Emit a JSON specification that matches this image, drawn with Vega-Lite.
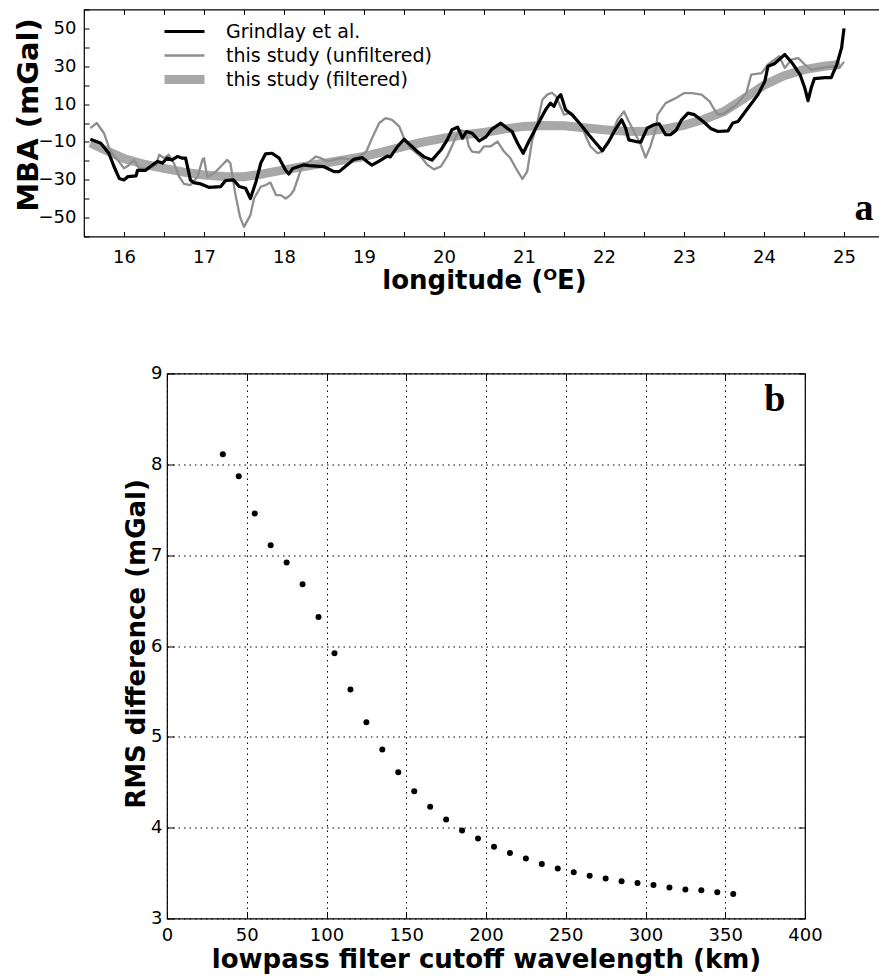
{
  "$schema": "https://vega.github.io/schema/vega-lite/v6.json",
  "background": "white",
  "padding": {"left": 13, "top": 7.5, "right": 0, "bottom": 0},
  "spacing": 69,
  "config": {
    "font": "DejaVu Sans",
    "view": {"stroke": null},
    "axis": {"labelFont": "DejaVu Sans", "labelFontSize": 18, "labelColor": "black", "tickColor": "black", "titleColor": "black", "titleFont": "DejaVu Sans", "titleFontWeight": "bold", "domain": false, "labelOverlap": false, "labelFlush": false, "grid": false}
  },
  "datasets": {
    "profile": [
      {"lon": 15.58, "mba": -10.5, "series": "this study (filtered)"},
      {"lon": 15.75, "mba": -14, "series": "this study (filtered)"},
      {"lon": 16.0, "mba": -18.8, "series": "this study (filtered)"},
      {"lon": 16.25, "mba": -21.8, "series": "this study (filtered)"},
      {"lon": 16.5, "mba": -24, "series": "this study (filtered)"},
      {"lon": 16.75, "mba": -26, "series": "this study (filtered)"},
      {"lon": 17.0, "mba": -27.5, "series": "this study (filtered)"},
      {"lon": 17.25, "mba": -28.3, "series": "this study (filtered)"},
      {"lon": 17.5, "mba": -28.4, "series": "this study (filtered)"},
      {"lon": 17.75, "mba": -26.8, "series": "this study (filtered)"},
      {"lon": 18.0, "mba": -24.8, "series": "this study (filtered)"},
      {"lon": 18.25, "mba": -23, "series": "this study (filtered)"},
      {"lon": 18.5, "mba": -21.3, "series": "this study (filtered)"},
      {"lon": 18.75, "mba": -19.5, "series": "this study (filtered)"},
      {"lon": 19.0, "mba": -17.7, "series": "this study (filtered)"},
      {"lon": 19.25, "mba": -15.1, "series": "this study (filtered)"},
      {"lon": 19.5, "mba": -12.4, "series": "this study (filtered)"},
      {"lon": 19.75, "mba": -10, "series": "this study (filtered)"},
      {"lon": 20.0, "mba": -8, "series": "this study (filtered)"},
      {"lon": 20.25, "mba": -6.2, "series": "this study (filtered)"},
      {"lon": 20.5, "mba": -5, "series": "this study (filtered)"},
      {"lon": 20.75, "mba": -3.2, "series": "this study (filtered)"},
      {"lon": 21.0, "mba": -1.8, "series": "this study (filtered)"},
      {"lon": 21.25, "mba": -1.3, "series": "this study (filtered)"},
      {"lon": 21.5, "mba": -1.5, "series": "this study (filtered)"},
      {"lon": 21.75, "mba": -2.5, "series": "this study (filtered)"},
      {"lon": 22.0, "mba": -3.6, "series": "this study (filtered)"},
      {"lon": 22.25, "mba": -4.3, "series": "this study (filtered)"},
      {"lon": 22.5, "mba": -4.5, "series": "this study (filtered)"},
      {"lon": 22.75, "mba": -3.2, "series": "this study (filtered)"},
      {"lon": 23.0, "mba": -1.2, "series": "this study (filtered)"},
      {"lon": 23.25, "mba": 2, "series": "this study (filtered)"},
      {"lon": 23.5, "mba": 6.1, "series": "this study (filtered)"},
      {"lon": 23.75, "mba": 13, "series": "this study (filtered)"},
      {"lon": 24.0, "mba": 20, "series": "this study (filtered)"},
      {"lon": 24.25, "mba": 25, "series": "this study (filtered)"},
      {"lon": 24.5, "mba": 28.2, "series": "this study (filtered)"},
      {"lon": 24.75, "mba": 30, "series": "this study (filtered)"},
      {"lon": 24.95, "mba": 30.9, "series": "this study (filtered)"},

      {"lon": 15.58, "mba": -2.7, "series": "this study (unfiltered)"},
      {"lon": 15.66, "mba": 0, "series": "this study (unfiltered)"},
      {"lon": 15.75, "mba": -5.4, "series": "this study (unfiltered)"},
      {"lon": 15.83, "mba": -15.1, "series": "this study (unfiltered)"},
      {"lon": 15.92, "mba": -19.5, "series": "this study (unfiltered)"},
      {"lon": 16.0, "mba": -24, "series": "this study (unfiltered)"},
      {"lon": 16.06, "mba": -22.3, "series": "this study (unfiltered)"},
      {"lon": 16.125, "mba": -19.5, "series": "this study (unfiltered)"},
      {"lon": 16.19, "mba": -24, "series": "this study (unfiltered)"},
      {"lon": 16.31, "mba": -24, "series": "this study (unfiltered)"},
      {"lon": 16.4, "mba": -22.3, "series": "this study (unfiltered)"},
      {"lon": 16.44, "mba": -16.8, "series": "this study (unfiltered)"},
      {"lon": 16.5, "mba": -18.6, "series": "this study (unfiltered)"},
      {"lon": 16.56, "mba": -16.8, "series": "this study (unfiltered)"},
      {"lon": 16.625, "mba": -21.3, "series": "this study (unfiltered)"},
      {"lon": 16.69, "mba": -28.4, "series": "this study (unfiltered)"},
      {"lon": 16.75, "mba": -32.2, "series": "this study (unfiltered)"},
      {"lon": 16.83, "mba": -32.8, "series": "this study (unfiltered)"},
      {"lon": 16.92, "mba": -28.4, "series": "this study (unfiltered)"},
      {"lon": 16.98, "mba": -19.5, "series": "this study (unfiltered)"},
      {"lon": 17.0, "mba": -18.6, "series": "this study (unfiltered)"},
      {"lon": 17.04, "mba": -28.4, "series": "this study (unfiltered)"},
      {"lon": 17.125, "mba": -26.6, "series": "this study (unfiltered)"},
      {"lon": 17.21, "mba": -23, "series": "this study (unfiltered)"},
      {"lon": 17.29, "mba": -19.5, "series": "this study (unfiltered)"},
      {"lon": 17.33, "mba": -21.3, "series": "this study (unfiltered)"},
      {"lon": 17.39, "mba": -37.2, "series": "this study (unfiltered)"},
      {"lon": 17.45, "mba": -49.6, "series": "this study (unfiltered)"},
      {"lon": 17.5, "mba": -54.9, "series": "this study (unfiltered)"},
      {"lon": 17.58, "mba": -48.7, "series": "this study (unfiltered)"},
      {"lon": 17.625, "mba": -39.9, "series": "this study (unfiltered)"},
      {"lon": 17.71, "mba": -33.7, "series": "this study (unfiltered)"},
      {"lon": 17.77, "mba": -32.8, "series": "this study (unfiltered)"},
      {"lon": 17.83, "mba": -31.5, "series": "this study (unfiltered)"},
      {"lon": 17.9, "mba": -38.1, "series": "this study (unfiltered)"},
      {"lon": 17.96, "mba": -38.1, "series": "this study (unfiltered)"},
      {"lon": 18.02, "mba": -39.9, "series": "this study (unfiltered)"},
      {"lon": 18.08, "mba": -38.1, "series": "this study (unfiltered)"},
      {"lon": 18.125, "mba": -35.4, "series": "this study (unfiltered)"},
      {"lon": 18.21, "mba": -24.8, "series": "this study (unfiltered)"},
      {"lon": 18.29, "mba": -21.3, "series": "this study (unfiltered)"},
      {"lon": 18.4, "mba": -17.7, "series": "this study (unfiltered)"},
      {"lon": 18.46, "mba": -18.6, "series": "this study (unfiltered)"},
      {"lon": 18.54, "mba": -20.3, "series": "this study (unfiltered)"},
      {"lon": 18.625, "mba": -19.5, "series": "this study (unfiltered)"},
      {"lon": 18.71, "mba": -18.6, "series": "this study (unfiltered)"},
      {"lon": 18.83, "mba": -19.2, "series": "this study (unfiltered)"},
      {"lon": 18.94, "mba": -17.7, "series": "this study (unfiltered)"},
      {"lon": 19.03, "mba": -15.1, "series": "this study (unfiltered)"},
      {"lon": 19.1, "mba": -8, "series": "this study (unfiltered)"},
      {"lon": 19.19, "mba": 0, "series": "this study (unfiltered)"},
      {"lon": 19.27, "mba": 2.6, "series": "this study (unfiltered)"},
      {"lon": 19.35, "mba": 1.7, "series": "this study (unfiltered)"},
      {"lon": 19.44, "mba": -1.8, "series": "this study (unfiltered)"},
      {"lon": 19.5, "mba": -8, "series": "this study (unfiltered)"},
      {"lon": 19.58, "mba": -13.3, "series": "this study (unfiltered)"},
      {"lon": 19.71, "mba": -17.7, "series": "this study (unfiltered)"},
      {"lon": 19.79, "mba": -22.1, "series": "this study (unfiltered)"},
      {"lon": 19.875, "mba": -24.5, "series": "this study (unfiltered)"},
      {"lon": 19.96, "mba": -23, "series": "this study (unfiltered)"},
      {"lon": 20.04, "mba": -17.7, "series": "this study (unfiltered)"},
      {"lon": 20.125, "mba": -9.8, "series": "this study (unfiltered)"},
      {"lon": 20.19, "mba": -3.6, "series": "this study (unfiltered)"},
      {"lon": 20.27, "mba": -4.5, "series": "this study (unfiltered)"},
      {"lon": 20.31, "mba": -12.4, "series": "this study (unfiltered)"},
      {"lon": 20.35, "mba": -15.1, "series": "this study (unfiltered)"},
      {"lon": 20.44, "mba": -15.6, "series": "this study (unfiltered)"},
      {"lon": 20.5, "mba": -12.4, "series": "this study (unfiltered)"},
      {"lon": 20.58, "mba": -12.4, "series": "this study (unfiltered)"},
      {"lon": 20.67, "mba": -9.8, "series": "this study (unfiltered)"},
      {"lon": 20.75, "mba": -15.1, "series": "this study (unfiltered)"},
      {"lon": 20.83, "mba": -18.6, "series": "this study (unfiltered)"},
      {"lon": 20.9, "mba": -24, "series": "this study (unfiltered)"},
      {"lon": 20.98, "mba": -29.6, "series": "this study (unfiltered)"},
      {"lon": 21.04, "mba": -25.7, "series": "this study (unfiltered)"},
      {"lon": 21.1, "mba": -9.8, "series": "this study (unfiltered)"},
      {"lon": 21.17, "mba": 0.8, "series": "this study (unfiltered)"},
      {"lon": 21.23, "mba": 12.3, "series": "this study (unfiltered)"},
      {"lon": 21.29, "mba": 15, "series": "this study (unfiltered)"},
      {"lon": 21.35, "mba": 16, "series": "this study (unfiltered)"},
      {"lon": 21.4, "mba": 14.1, "series": "this study (unfiltered)"},
      {"lon": 21.5, "mba": 4.4, "series": "this study (unfiltered)"},
      {"lon": 21.59, "mba": 5.3, "series": "this study (unfiltered)"},
      {"lon": 21.71, "mba": -0.9, "series": "this study (unfiltered)"},
      {"lon": 21.83, "mba": -12.4, "series": "this study (unfiltered)"},
      {"lon": 21.92, "mba": -16, "series": "this study (unfiltered)"},
      {"lon": 21.98, "mba": -15.1, "series": "this study (unfiltered)"},
      {"lon": 22.08, "mba": -8, "series": "this study (unfiltered)"},
      {"lon": 22.17, "mba": 1.7, "series": "this study (unfiltered)"},
      {"lon": 22.25, "mba": 6.1, "series": "this study (unfiltered)"},
      {"lon": 22.31, "mba": 0.8, "series": "this study (unfiltered)"},
      {"lon": 22.375, "mba": -4.5, "series": "this study (unfiltered)"},
      {"lon": 22.46, "mba": -11.5, "series": "this study (unfiltered)"},
      {"lon": 22.52, "mba": -18.3, "series": "this study (unfiltered)"},
      {"lon": 22.58, "mba": -12.4, "series": "this study (unfiltered)"},
      {"lon": 22.65, "mba": -2.7, "series": "this study (unfiltered)"},
      {"lon": 22.67, "mba": 4.4, "series": "this study (unfiltered)"},
      {"lon": 22.77, "mba": 10.5, "series": "this study (unfiltered)"},
      {"lon": 22.9, "mba": 13.2, "series": "this study (unfiltered)"},
      {"lon": 23.0, "mba": 15.8, "series": "this study (unfiltered)"},
      {"lon": 23.1, "mba": 15.8, "series": "this study (unfiltered)"},
      {"lon": 23.22, "mba": 15, "series": "this study (unfiltered)"},
      {"lon": 23.32, "mba": 11.4, "series": "this study (unfiltered)"},
      {"lon": 23.38, "mba": 7, "series": "this study (unfiltered)"},
      {"lon": 23.425, "mba": 4.4, "series": "this study (unfiltered)"},
      {"lon": 23.5, "mba": 5, "series": "this study (unfiltered)"},
      {"lon": 23.65, "mba": 9.5, "series": "this study (unfiltered)"},
      {"lon": 23.78, "mba": 15.8, "series": "this study (unfiltered)"},
      {"lon": 23.84, "mba": 25.6, "series": "this study (unfiltered)"},
      {"lon": 23.97, "mba": 26.4, "series": "this study (unfiltered)"},
      {"lon": 24.05, "mba": 30.9, "series": "this study (unfiltered)"},
      {"lon": 24.19, "mba": 35.3, "series": "this study (unfiltered)"},
      {"lon": 24.26, "mba": 29.1, "series": "this study (unfiltered)"},
      {"lon": 24.34, "mba": 33.5, "series": "this study (unfiltered)"},
      {"lon": 24.43, "mba": 34.3, "series": "this study (unfiltered)"},
      {"lon": 24.51, "mba": 30.9, "series": "this study (unfiltered)"},
      {"lon": 24.59, "mba": 28.2, "series": "this study (unfiltered)"},
      {"lon": 24.72, "mba": 29.1, "series": "this study (unfiltered)"},
      {"lon": 24.88, "mba": 30, "series": "this study (unfiltered)"},
      {"lon": 24.94, "mba": 29.1, "series": "this study (unfiltered)"},
      {"lon": 25.0, "mba": 32.3, "series": "this study (unfiltered)"},

      {"lon": 15.58, "mba": -8.6, "series": "Grindlay et al."},
      {"lon": 15.71, "mba": -10.7, "series": "Grindlay et al."},
      {"lon": 15.81, "mba": -16, "series": "Grindlay et al."},
      {"lon": 15.875, "mba": -23, "series": "Grindlay et al."},
      {"lon": 15.94, "mba": -29.3, "series": "Grindlay et al."},
      {"lon": 16.0, "mba": -30.1, "series": "Grindlay et al."},
      {"lon": 16.05, "mba": -28.3, "series": "Grindlay et al."},
      {"lon": 16.15, "mba": -28, "series": "Grindlay et al."},
      {"lon": 16.17, "mba": -25, "series": "Grindlay et al."},
      {"lon": 16.27, "mba": -25, "series": "Grindlay et al."},
      {"lon": 16.33, "mba": -23, "series": "Grindlay et al."},
      {"lon": 16.42, "mba": -20.3, "series": "Grindlay et al."},
      {"lon": 16.48, "mba": -21.2, "series": "Grindlay et al."},
      {"lon": 16.54, "mba": -18.6, "series": "Grindlay et al."},
      {"lon": 16.6, "mba": -19.5, "series": "Grindlay et al."},
      {"lon": 16.67, "mba": -17.7, "series": "Grindlay et al."},
      {"lon": 16.73, "mba": -18.6, "series": "Grindlay et al."},
      {"lon": 16.77, "mba": -18.6, "series": "Grindlay et al."},
      {"lon": 16.83, "mba": -30.1, "series": "Grindlay et al."},
      {"lon": 16.87, "mba": -31.5, "series": "Grindlay et al."},
      {"lon": 16.96, "mba": -32.2, "series": "Grindlay et al."},
      {"lon": 17.06, "mba": -34, "series": "Grindlay et al."},
      {"lon": 17.21, "mba": -33.6, "series": "Grindlay et al."},
      {"lon": 17.27, "mba": -30.4, "series": "Grindlay et al."},
      {"lon": 17.37, "mba": -30.1, "series": "Grindlay et al."},
      {"lon": 17.44, "mba": -33.6, "series": "Grindlay et al."},
      {"lon": 17.52, "mba": -34.5, "series": "Grindlay et al."},
      {"lon": 17.58, "mba": -39.9, "series": "Grindlay et al."},
      {"lon": 17.65, "mba": -31, "series": "Grindlay et al."},
      {"lon": 17.71, "mba": -21.2, "series": "Grindlay et al."},
      {"lon": 17.77, "mba": -16.3, "series": "Grindlay et al."},
      {"lon": 17.85, "mba": -16, "series": "Grindlay et al."},
      {"lon": 17.94, "mba": -18.6, "series": "Grindlay et al."},
      {"lon": 18.02, "mba": -25, "series": "Grindlay et al."},
      {"lon": 18.06, "mba": -27, "series": "Grindlay et al."},
      {"lon": 18.11, "mba": -24, "series": "Grindlay et al."},
      {"lon": 18.25, "mba": -22.1, "series": "Grindlay et al."},
      {"lon": 18.31, "mba": -22.5, "series": "Grindlay et al."},
      {"lon": 18.5, "mba": -23.1, "series": "Grindlay et al."},
      {"lon": 18.625, "mba": -25.7, "series": "Grindlay et al."},
      {"lon": 18.69, "mba": -25.7, "series": "Grindlay et al."},
      {"lon": 18.77, "mba": -22.9, "series": "Grindlay et al."},
      {"lon": 18.875, "mba": -19.2, "series": "Grindlay et al."},
      {"lon": 18.98, "mba": -18.3, "series": "Grindlay et al."},
      {"lon": 19.04, "mba": -20.5, "series": "Grindlay et al."},
      {"lon": 19.1, "mba": -22.3, "series": "Grindlay et al."},
      {"lon": 19.21, "mba": -19.6, "series": "Grindlay et al."},
      {"lon": 19.29, "mba": -17.5, "series": "Grindlay et al."},
      {"lon": 19.33, "mba": -17.9, "series": "Grindlay et al."},
      {"lon": 19.42, "mba": -12.4, "series": "Grindlay et al."},
      {"lon": 19.5, "mba": -8.6, "series": "Grindlay et al."},
      {"lon": 19.58, "mba": -11.7, "series": "Grindlay et al."},
      {"lon": 19.67, "mba": -15.2, "series": "Grindlay et al."},
      {"lon": 19.75, "mba": -17.9, "series": "Grindlay et al."},
      {"lon": 19.85, "mba": -19.6, "series": "Grindlay et al."},
      {"lon": 19.96, "mba": -14.3, "series": "Grindlay et al."},
      {"lon": 20.04, "mba": -8.9, "series": "Grindlay et al."},
      {"lon": 20.1, "mba": -3.6, "series": "Grindlay et al."},
      {"lon": 20.17, "mba": -2.2, "series": "Grindlay et al."},
      {"lon": 20.23, "mba": -8, "series": "Grindlay et al."},
      {"lon": 20.28, "mba": -4.5, "series": "Grindlay et al."},
      {"lon": 20.35, "mba": -5.4, "series": "Grindlay et al."},
      {"lon": 20.44, "mba": -9.4, "series": "Grindlay et al."},
      {"lon": 20.52, "mba": -7.5, "series": "Grindlay et al."},
      {"lon": 20.6, "mba": -3.2, "series": "Grindlay et al."},
      {"lon": 20.71, "mba": -0.1, "series": "Grindlay et al."},
      {"lon": 20.79, "mba": -2.8, "series": "Grindlay et al."},
      {"lon": 20.85, "mba": -4.5, "series": "Grindlay et al."},
      {"lon": 20.92, "mba": -10.7, "series": "Grindlay et al."},
      {"lon": 20.99, "mba": -16, "series": "Grindlay et al."},
      {"lon": 21.06, "mba": -9.8, "series": "Grindlay et al."},
      {"lon": 21.17, "mba": -0.9, "series": "Grindlay et al."},
      {"lon": 21.27, "mba": 7.0, "series": "Grindlay et al."},
      {"lon": 21.33, "mba": 10.5, "series": "Grindlay et al."},
      {"lon": 21.375, "mba": 8.8, "series": "Grindlay et al."},
      {"lon": 21.42, "mba": 13.2, "series": "Grindlay et al."},
      {"lon": 21.46, "mba": 15, "series": "Grindlay et al."},
      {"lon": 21.52, "mba": 7.0, "series": "Grindlay et al."},
      {"lon": 21.6, "mba": 4.4, "series": "Grindlay et al."},
      {"lon": 21.71, "mba": -0.9, "series": "Grindlay et al."},
      {"lon": 21.81, "mba": -6.2, "series": "Grindlay et al."},
      {"lon": 21.9, "mba": -10.7, "series": "Grindlay et al."},
      {"lon": 21.98, "mba": -14.6, "series": "Grindlay et al."},
      {"lon": 22.06, "mba": -9.8, "series": "Grindlay et al."},
      {"lon": 22.14, "mba": -3.6, "series": "Grindlay et al."},
      {"lon": 22.22, "mba": 1.7, "series": "Grindlay et al."},
      {"lon": 22.27, "mba": -2.7, "series": "Grindlay et al."},
      {"lon": 22.31, "mba": -8.9, "series": "Grindlay et al."},
      {"lon": 22.4, "mba": -9.8, "series": "Grindlay et al."},
      {"lon": 22.46, "mba": -10.1, "series": "Grindlay et al."},
      {"lon": 22.54, "mba": -2.7, "series": "Grindlay et al."},
      {"lon": 22.625, "mba": -0.9, "series": "Grindlay et al."},
      {"lon": 22.69, "mba": -0.4, "series": "Grindlay et al."},
      {"lon": 22.77, "mba": -6.2, "series": "Grindlay et al."},
      {"lon": 22.83, "mba": -6.2, "series": "Grindlay et al."},
      {"lon": 22.9, "mba": -3.9, "series": "Grindlay et al."},
      {"lon": 22.97, "mba": 1.7, "series": "Grindlay et al."},
      {"lon": 23.05, "mba": 5.2, "series": "Grindlay et al."},
      {"lon": 23.13, "mba": 4.4, "series": "Grindlay et al."},
      {"lon": 23.24, "mba": 0.8, "series": "Grindlay et al."},
      {"lon": 23.34, "mba": -3.1, "series": "Grindlay et al."},
      {"lon": 23.425, "mba": -4.5, "series": "Grindlay et al."},
      {"lon": 23.55, "mba": -4.2, "series": "Grindlay et al."},
      {"lon": 23.61, "mba": 0, "series": "Grindlay et al."},
      {"lon": 23.675, "mba": 0.8, "series": "Grindlay et al."},
      {"lon": 23.8, "mba": 7.9, "series": "Grindlay et al."},
      {"lon": 23.925, "mba": 15, "series": "Grindlay et al."},
      {"lon": 24.01, "mba": 22, "series": "Grindlay et al."},
      {"lon": 24.05, "mba": 30, "series": "Grindlay et al."},
      {"lon": 24.13, "mba": 31.3, "series": "Grindlay et al."},
      {"lon": 24.26, "mba": 36.2, "series": "Grindlay et al."},
      {"lon": 24.36, "mba": 31.3, "series": "Grindlay et al."},
      {"lon": 24.45, "mba": 25.6, "series": "Grindlay et al."},
      {"lon": 24.51, "mba": 18.5, "series": "Grindlay et al."},
      {"lon": 24.55, "mba": 11.8, "series": "Grindlay et al."},
      {"lon": 24.59, "mba": 18.5, "series": "Grindlay et al."},
      {"lon": 24.63, "mba": 23.5, "series": "Grindlay et al."},
      {"lon": 24.76, "mba": 24, "series": "Grindlay et al."},
      {"lon": 24.84, "mba": 24, "series": "Grindlay et al."},
      {"lon": 24.91, "mba": 30.9, "series": "Grindlay et al."},
      {"lon": 24.97, "mba": 39.7, "series": "Grindlay et al."},
      {"lon": 25.0, "mba": 50, "series": "Grindlay et al."}
    ],
    "rms": [
      {"km": 35, "rms": 8.11}, {"km": 45, "rms": 7.87}, {"km": 55, "rms": 7.46}, {"km": 65, "rms": 7.11},
      {"km": 75, "rms": 6.92}, {"km": 85, "rms": 6.68}, {"km": 95, "rms": 6.32}, {"km": 105, "rms": 5.92},
      {"km": 115, "rms": 5.52}, {"km": 125, "rms": 5.16}, {"km": 135, "rms": 4.86}, {"km": 145, "rms": 4.61},
      {"km": 155, "rms": 4.40}, {"km": 165, "rms": 4.23}, {"km": 175, "rms": 4.09}, {"km": 185, "rms": 3.97},
      {"km": 195, "rms": 3.88}, {"km": 205, "rms": 3.79}, {"km": 215, "rms": 3.72}, {"km": 225, "rms": 3.66},
      {"km": 235, "rms": 3.60}, {"km": 245, "rms": 3.55}, {"km": 255, "rms": 3.51}, {"km": 265, "rms": 3.47},
      {"km": 275, "rms": 3.44}, {"km": 285, "rms": 3.41}, {"km": 295, "rms": 3.39}, {"km": 305, "rms": 3.37},
      {"km": 315, "rms": 3.34}, {"km": 325, "rms": 3.32}, {"km": 335, "rms": 3.31}, {"km": 345, "rms": 3.29},
      {"km": 355, "rms": 3.27}
    ]
  },
  "vconcat": [
    {
      "width": 800,
      "height": 227,
      "view": {"stroke": "black", "strokeWidth": 1.2},
      "resolve": {"axis": {"x": "independent", "y": "independent"}},
      "layer": [
        {
          "data": {"name": "profile"},
          "mark": {"type": "line", "strokeJoin": "round"},
          "encoding": {
            "x": {"field": "lon", "type": "quantitative", "scale": {"domain": [15.5, 25.5], "nice": false, "zero": false}, "axis": {"orient": "bottom", "grid": false, "values": [15.5, 16, 16.5, 17, 17.5, 18, 18.5, 19, 19.5, 20, 20.5, 21, 21.5, 22, 22.5, 23, 23.5, 24, 24.5, 25], "labelExpr": "datum.value % 1 === 0 ? format(datum.value, 'd') : ''", "labelFontSize": {"condition": {"test": "datum.value % 1 !== 0", "value": 0}, "value": 18}, "tickSize": -5, "labelPadding": 17, "title": "longitude (ᴼE)", "titleFontSize": 26, "titleY": 52, "titleBaseline": "alphabetic"}},
            "y": {"field": "mba", "type": "quantitative", "scale": {"domain": [-60, 60], "nice": false, "zero": false}, "axis": {"orient": "left", "grid": false, "values": [-60, -50, -40, -30, -20, -10, 0, 10, 20, 30, 40, 50, 60], "labelExpr": "abs(datum.value) % 20 === 10 ? format(datum.value, 'd') : ''", "labelFontSize": {"condition": {"test": "abs(datum.value) % 20 !== 10", "value": 0}, "value": 18}, "tickSize": -5, "labelPadding": 13, "title": "MBA (mGal)", "titleFontSize": 29, "titleX": -46.5, "titleY": 105, "titleBaseline": "alphabetic", "titleAngle": 270}},
            "color": {"field": "series", "type": "nominal", "scale": {"domain": ["Grindlay et al.", "this study (unfiltered)", "this study (filtered)"], "range": ["#000000", "#8e8e8e", "#a8a8a8"]}, "legend": {"title": null, "orient": "none", "legendX": 76, "legendY": 10, "symbolType": "stroke", "symbolSize": 1600, "labelFont": "DejaVu Sans", "labelFontSize": 19, "labelColor": "black", "labelOffset": 17, "labelLimit": 0, "clipHeight": 24, "rowPadding": 0, "padding": 0}},
            "strokeWidth": {"field": "series", "type": "nominal", "scale": {"type": "ordinal", "domain": ["Grindlay et al.", "this study (unfiltered)", "this study (filtered)"], "range": [3.2, 2.3, 9]}}
          }
        },
        {
          "data": {"values": [{"lon": 25.25, "mba": -51.2, "label": "a"}]},
          "mark": {"type": "text", "font": "Liberation Serif", "fontWeight": "bold", "fontSize": 38, "baseline": "alphabetic", "align": "center", "color": "black"},
          "encoding": {
            "x": {"field": "lon", "type": "quantitative", "axis": {"orient": "top", "grid": false, "values": [15.5, 16, 16.5, 17, 17.5, 18, 18.5, 19, 19.5, 20, 20.5, 21, 21.5, 22, 22.5, 23, 23.5, 24, 24.5, 25], "labels": false, "tickSize": -5, "title": null}},
            "y": {"field": "mba", "type": "quantitative", "axis": null},
            "text": {"field": "label"}
          }
        }
      ]
    },
    {
      "spacing": 0,
      "hconcat": [
        {
          "data": {"values": [{}]},
          "mark": {"type": "text", "text": ""},
          "width": 38,
          "height": 10
        },
        {
          "width": 638,
          "height": 545,
          "view": {"stroke": "black", "strokeWidth": 1.2},
          "resolve": {"axis": {"x": "independent", "y": "independent"}},
          "layer": [
            {
              "data": {"name": "rms"},
              "mark": {"type": "point", "filled": true, "size": 36, "color": "black", "opacity": 1},
              "encoding": {
                "x": {"field": "km", "type": "quantitative", "scale": {"domain": [0, 400], "nice": false}, "axis": {"values": [0, 50, 100, 150, 200, 250, 300, 350, 400], "grid": true, "gridDash": [1.5, 4], "gridColor": "black", "gridWidth": 1, "tickSize": -7, "labelPadding": 15, "title": "lowpass filter cutoff wavelength (km)", "titleFontSize": 26, "titleY": 49, "titleBaseline": "alphabetic"}},
                "y": {"field": "rms", "type": "quantitative", "scale": {"domain": [3, 9], "nice": false, "zero": false}, "axis": {"values": [3, 4, 5, 6, 7, 8, 9], "grid": true, "gridDash": [1.5, 4], "gridColor": "black", "gridWidth": 1, "tickSize": -7, "labelPadding": 12, "title": "RMS difference (mGal)", "titleFontSize": 26, "titleX": -23, "titleY": 270, "titleBaseline": "alphabetic", "titleAngle": 270}}
              }
            },
            {
              "data": {"values": [{"km": 381, "rms": 8.59, "label": "b"}]},
              "mark": {"type": "text", "font": "Liberation Serif", "fontWeight": "bold", "fontSize": 38, "baseline": "alphabetic", "align": "center", "color": "black"},
              "encoding": {
                "x": {"field": "km", "type": "quantitative", "axis": {"orient": "top", "grid": false, "values": [0, 50, 100, 150, 200, 250, 300, 350, 400], "labels": false, "tickSize": -7, "title": null}},
                "y": {"field": "rms", "type": "quantitative", "axis": {"orient": "right", "grid": false, "values": [3, 4, 5, 6, 7, 8, 9], "labels": false, "tickSize": -7, "title": null}},
                "text": {"field": "label"}
              }
            }
          ]
        }
      ]
    }
  ]
}
